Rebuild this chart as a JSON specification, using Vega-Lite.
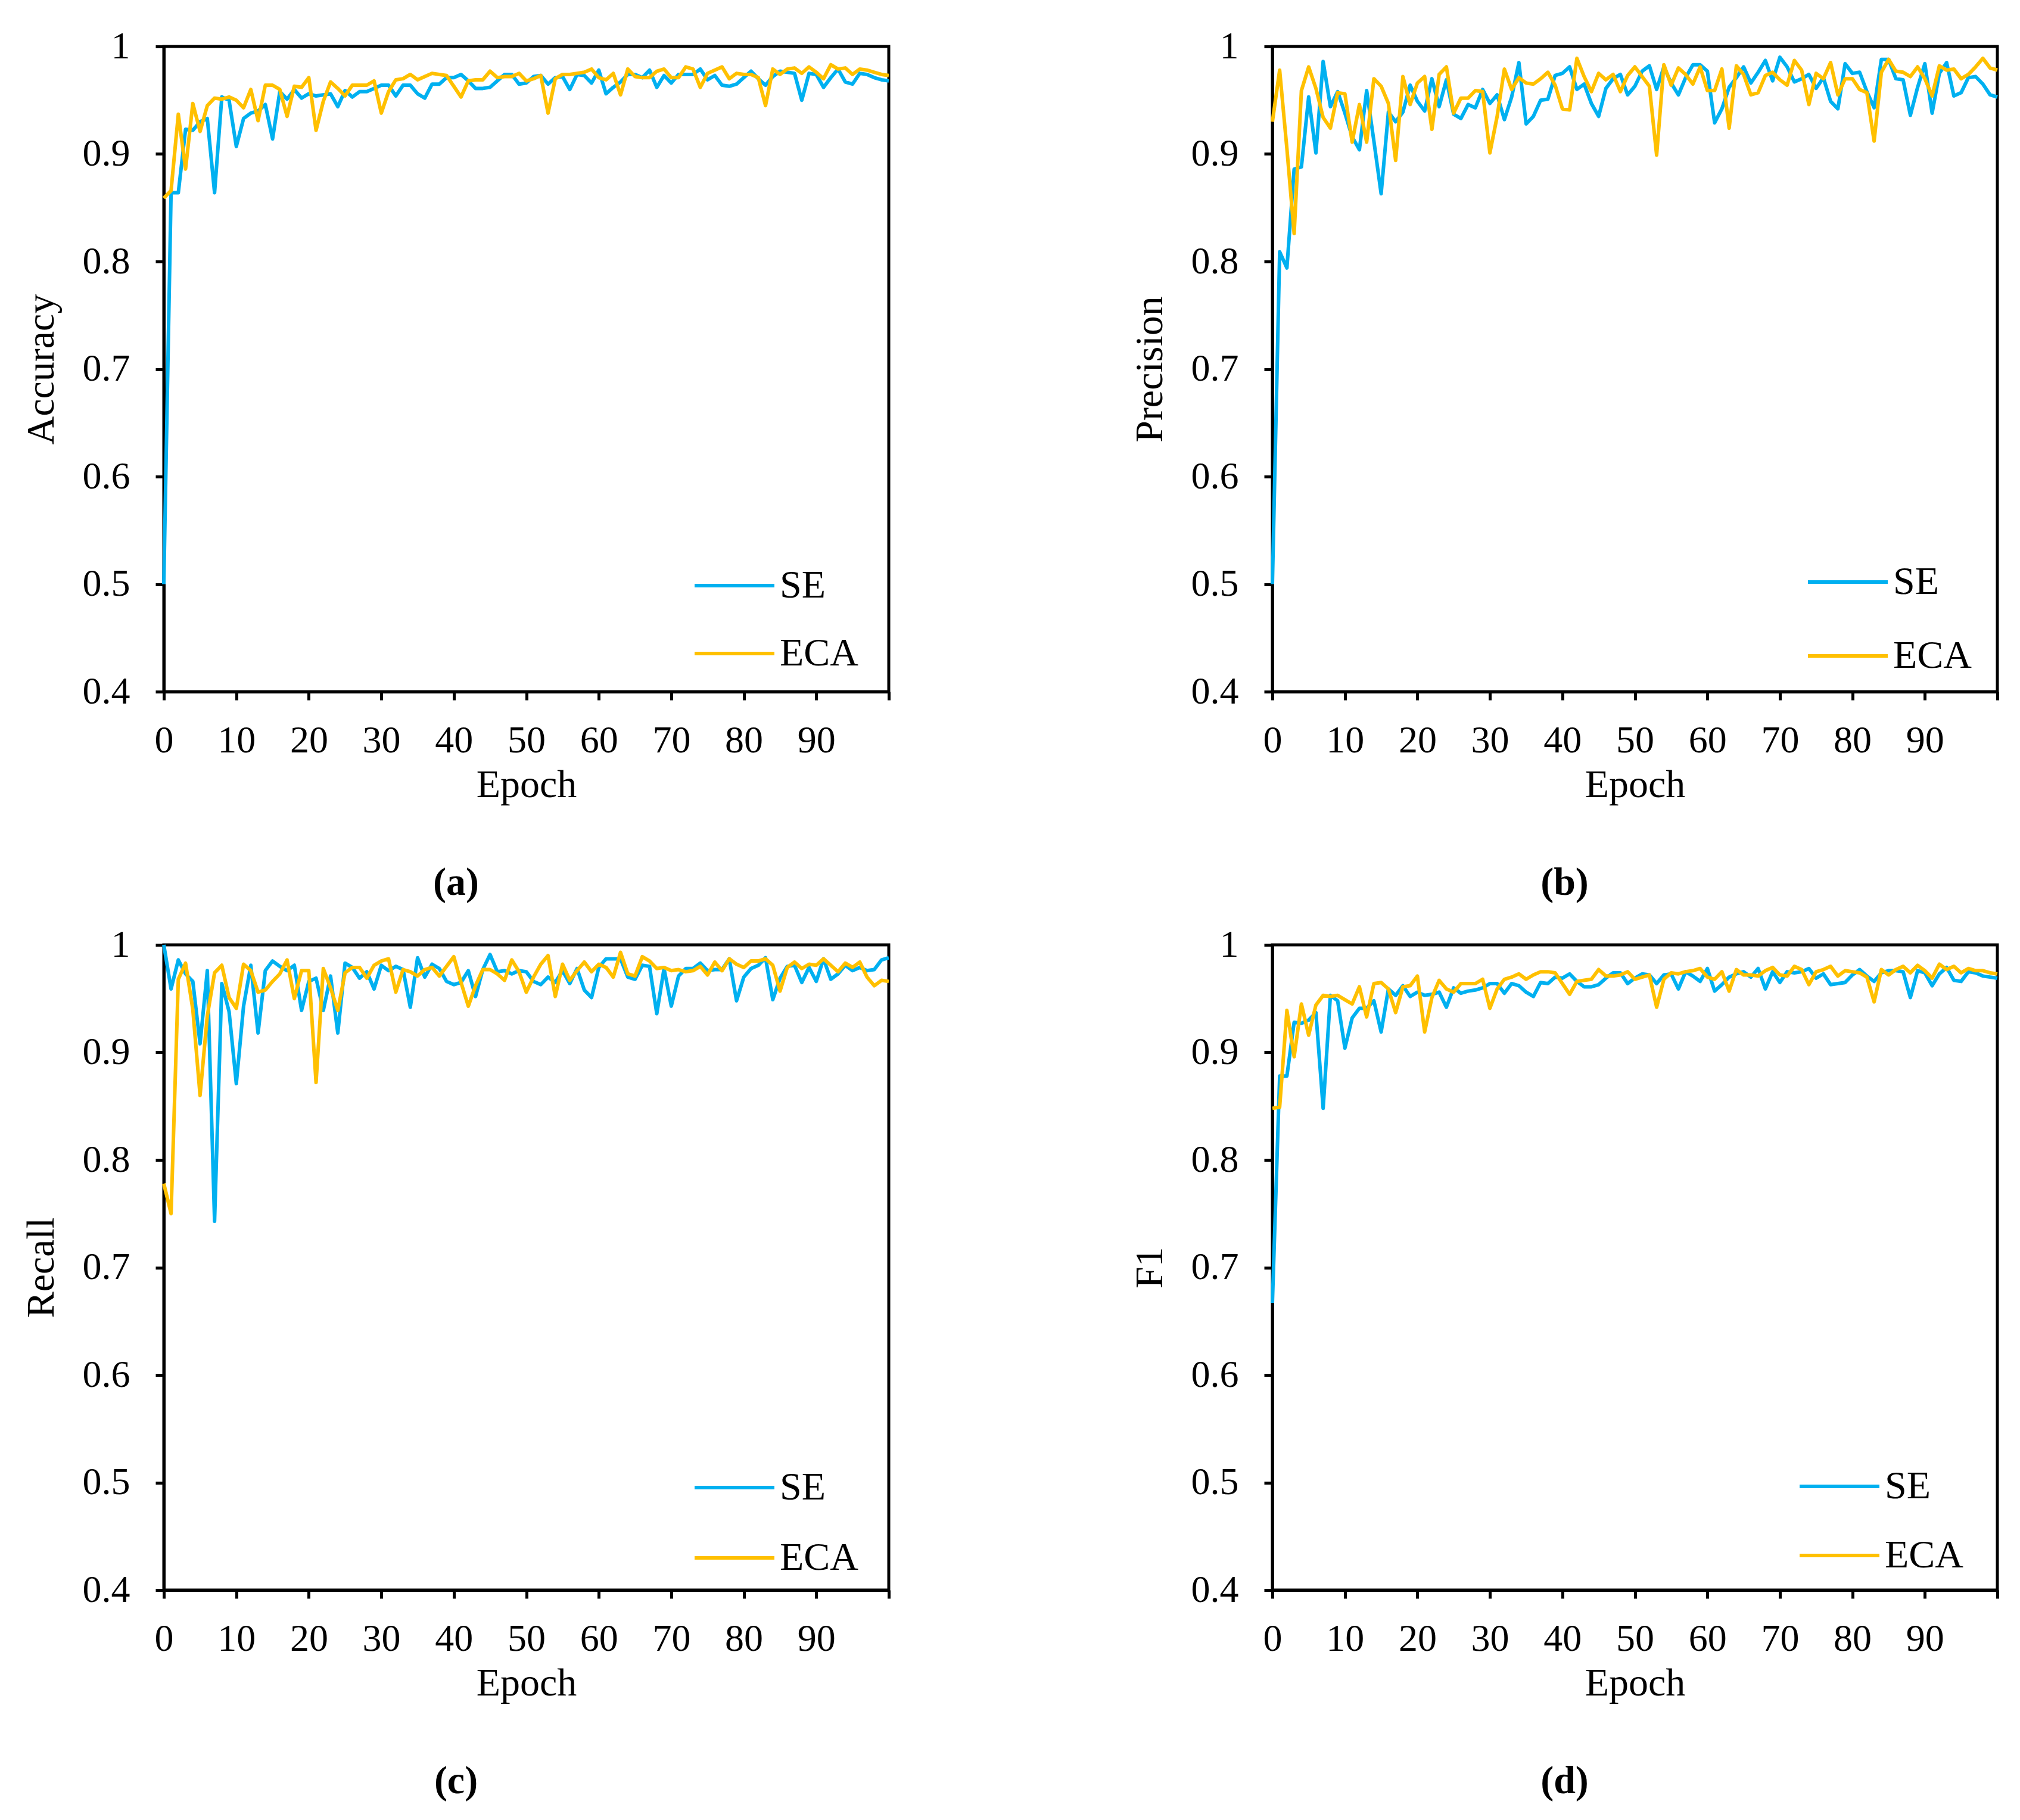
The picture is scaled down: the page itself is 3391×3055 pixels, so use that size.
{
"$schema": "https://vega.github.io/schema/vega-lite/v6.json",
"background": "white",
"padding": {"left": 33, "top": 43, "right": 10, "bottom": 10},
"datasets": {
"accuracy": [
{"epoch":0,"SE":0.500,"ECA":0.859},{"epoch":1,"SE":0.864,"ECA":0.866},{"epoch":2,"SE":0.864,"ECA":0.937},{"epoch":3,"SE":0.923,"ECA":0.886},{"epoch":4,"SE":0.922,"ECA":0.947},{"epoch":5,"SE":0.930,"ECA":0.921},{"epoch":6,"SE":0.933,"ECA":0.945},{"epoch":7,"SE":0.864,"ECA":0.952},{"epoch":8,"SE":0.953,"ECA":0.951},{"epoch":9,"SE":0.950,"ECA":0.953},
{"epoch":10,"SE":0.907,"ECA":0.950},{"epoch":11,"SE":0.933,"ECA":0.943},{"epoch":12,"SE":0.938,"ECA":0.960},{"epoch":13,"SE":0.940,"ECA":0.931},{"epoch":14,"SE":0.946,"ECA":0.964},{"epoch":15,"SE":0.914,"ECA":0.964},{"epoch":16,"SE":0.958,"ECA":0.960},{"epoch":17,"SE":0.951,"ECA":0.935},{"epoch":18,"SE":0.960,"ECA":0.963},{"epoch":19,"SE":0.952,"ECA":0.962},
{"epoch":20,"SE":0.956,"ECA":0.971},{"epoch":21,"SE":0.954,"ECA":0.922},{"epoch":22,"SE":0.955,"ECA":0.949},{"epoch":23,"SE":0.956,"ECA":0.967},{"epoch":24,"SE":0.944,"ECA":0.961},{"epoch":25,"SE":0.959,"ECA":0.954},{"epoch":26,"SE":0.953,"ECA":0.964},{"epoch":27,"SE":0.958,"ECA":0.964},{"epoch":28,"SE":0.958,"ECA":0.964},{"epoch":29,"SE":0.961,"ECA":0.968},
{"epoch":30,"SE":0.964,"ECA":0.938},{"epoch":31,"SE":0.964,"ECA":0.958},{"epoch":32,"SE":0.954,"ECA":0.969},{"epoch":33,"SE":0.964,"ECA":0.970},{"epoch":34,"SE":0.964,"ECA":0.974},{"epoch":35,"SE":0.956,"ECA":0.969},{"epoch":36,"SE":0.952,"ECA":0.972},{"epoch":37,"SE":0.965,"ECA":0.975},{"epoch":38,"SE":0.965,"ECA":0.974},{"epoch":39,"SE":0.971,"ECA":0.973},
{"epoch":40,"SE":0.971,"ECA":0.963},{"epoch":41,"SE":0.974,"ECA":0.953},{"epoch":42,"SE":0.968,"ECA":0.968},{"epoch":43,"SE":0.961,"ECA":0.969},{"epoch":44,"SE":0.961,"ECA":0.969},{"epoch":45,"SE":0.962,"ECA":0.977},{"epoch":46,"SE":0.968,"ECA":0.971},{"epoch":47,"SE":0.974,"ECA":0.972},{"epoch":48,"SE":0.974,"ECA":0.972},{"epoch":49,"SE":0.965,"ECA":0.975},
{"epoch":50,"SE":0.966,"ECA":0.968},{"epoch":51,"SE":0.972,"ECA":0.970},{"epoch":52,"SE":0.973,"ECA":0.973},{"epoch":53,"SE":0.965,"ECA":0.938},{"epoch":54,"SE":0.971,"ECA":0.970},{"epoch":55,"SE":0.972,"ECA":0.974},{"epoch":56,"SE":0.960,"ECA":0.974},{"epoch":57,"SE":0.974,"ECA":0.975},{"epoch":58,"SE":0.973,"ECA":0.976},{"epoch":59,"SE":0.966,"ECA":0.979},
{"epoch":60,"SE":0.978,"ECA":0.971},{"epoch":61,"SE":0.956,"ECA":0.969},{"epoch":62,"SE":0.962,"ECA":0.975},{"epoch":63,"SE":0.967,"ECA":0.955},{"epoch":64,"SE":0.974,"ECA":0.979},{"epoch":65,"SE":0.974,"ECA":0.972},{"epoch":66,"SE":0.971,"ECA":0.971},{"epoch":67,"SE":0.978,"ECA":0.971},{"epoch":68,"SE":0.962,"ECA":0.977},{"epoch":69,"SE":0.973,"ECA":0.979},
{"epoch":70,"SE":0.966,"ECA":0.971},{"epoch":71,"SE":0.974,"ECA":0.971},{"epoch":72,"SE":0.974,"ECA":0.981},{"epoch":73,"SE":0.974,"ECA":0.979},{"epoch":74,"SE":0.979,"ECA":0.962},{"epoch":75,"SE":0.969,"ECA":0.975},{"epoch":76,"SE":0.973,"ECA":0.978},{"epoch":77,"SE":0.964,"ECA":0.981},{"epoch":78,"SE":0.963,"ECA":0.970},{"epoch":79,"SE":0.965,"ECA":0.975},
{"epoch":80,"SE":0.971,"ECA":0.974},{"epoch":81,"SE":0.977,"ECA":0.974},{"epoch":82,"SE":0.970,"ECA":0.971},{"epoch":83,"SE":0.964,"ECA":0.945},{"epoch":84,"SE":0.972,"ECA":0.979},{"epoch":85,"SE":0.977,"ECA":0.974},{"epoch":86,"SE":0.976,"ECA":0.979},{"epoch":87,"SE":0.975,"ECA":0.980},{"epoch":88,"SE":0.950,"ECA":0.975},{"epoch":89,"SE":0.975,"ECA":0.981},
{"epoch":90,"SE":0.974,"ECA":0.976},{"epoch":91,"SE":0.962,"ECA":0.970},{"epoch":92,"SE":0.971,"ECA":0.983},{"epoch":93,"SE":0.979,"ECA":0.979},{"epoch":94,"SE":0.967,"ECA":0.980},{"epoch":95,"SE":0.965,"ECA":0.974},{"epoch":96,"SE":0.975,"ECA":0.979},{"epoch":97,"SE":0.974,"ECA":0.978},{"epoch":98,"SE":0.971,"ECA":0.976},{"epoch":99,"SE":0.969,"ECA":0.974},
{"epoch":100,"SE":0.968,"ECA":0.973}
],
"precision": [
{"epoch":0,"SE":0.500,"ECA":0.930},{"epoch":1,"SE":0.809,"ECA":0.978},{"epoch":2,"SE":0.794,"ECA":0.905},{"epoch":3,"SE":0.886,"ECA":0.826},{"epoch":4,"SE":0.888,"ECA":0.959},{"epoch":5,"SE":0.953,"ECA":0.981},{"epoch":6,"SE":0.901,"ECA":0.961},{"epoch":7,"SE":0.986,"ECA":0.934},{"epoch":8,"SE":0.944,"ECA":0.924},{"epoch":9,"SE":0.958,"ECA":0.957},
{"epoch":10,"SE":0.938,"ECA":0.956},{"epoch":11,"SE":0.916,"ECA":0.911},{"epoch":12,"SE":0.904,"ECA":0.946},{"epoch":13,"SE":0.959,"ECA":0.911},{"epoch":14,"SE":0.912,"ECA":0.970},{"epoch":15,"SE":0.863,"ECA":0.963},{"epoch":16,"SE":0.939,"ECA":0.947},{"epoch":17,"SE":0.930,"ECA":0.894},{"epoch":18,"SE":0.939,"ECA":0.972},{"epoch":19,"SE":0.964,"ECA":0.946},
{"epoch":20,"SE":0.949,"ECA":0.966},{"epoch":21,"SE":0.940,"ECA":0.972},{"epoch":22,"SE":0.970,"ECA":0.923},{"epoch":23,"SE":0.944,"ECA":0.974},{"epoch":24,"SE":0.969,"ECA":0.981},{"epoch":25,"SE":0.937,"ECA":0.938},{"epoch":26,"SE":0.933,"ECA":0.952},{"epoch":27,"SE":0.946,"ECA":0.952},{"epoch":28,"SE":0.943,"ECA":0.959},{"epoch":29,"SE":0.960,"ECA":0.958},
{"epoch":30,"SE":0.947,"ECA":0.901},{"epoch":31,"SE":0.955,"ECA":0.935},{"epoch":32,"SE":0.932,"ECA":0.979},{"epoch":33,"SE":0.953,"ECA":0.960},{"epoch":34,"SE":0.985,"ECA":0.971},{"epoch":35,"SE":0.928,"ECA":0.966},{"epoch":36,"SE":0.935,"ECA":0.965},{"epoch":37,"SE":0.950,"ECA":0.970},{"epoch":38,"SE":0.951,"ECA":0.976},{"epoch":39,"SE":0.973,"ECA":0.964},
{"epoch":40,"SE":0.975,"ECA":0.942},{"epoch":41,"SE":0.981,"ECA":0.941},{"epoch":42,"SE":0.960,"ECA":0.989},{"epoch":43,"SE":0.965,"ECA":0.972},{"epoch":44,"SE":0.947,"ECA":0.958},{"epoch":45,"SE":0.935,"ECA":0.975},{"epoch":46,"SE":0.961,"ECA":0.969},{"epoch":47,"SE":0.970,"ECA":0.974},{"epoch":48,"SE":0.974,"ECA":0.958},{"epoch":49,"SE":0.955,"ECA":0.973},
{"epoch":50,"SE":0.963,"ECA":0.981},{"epoch":51,"SE":0.977,"ECA":0.972},{"epoch":52,"SE":0.982,"ECA":0.963},{"epoch":53,"SE":0.960,"ECA":0.899},{"epoch":54,"SE":0.981,"ECA":0.983},{"epoch":55,"SE":0.966,"ECA":0.964},{"epoch":56,"SE":0.955,"ECA":0.980},{"epoch":57,"SE":0.971,"ECA":0.974},{"epoch":58,"SE":0.983,"ECA":0.965},{"epoch":59,"SE":0.983,"ECA":0.981},
{"epoch":60,"SE":0.977,"ECA":0.959},{"epoch":61,"SE":0.929,"ECA":0.959},{"epoch":62,"SE":0.942,"ECA":0.979},{"epoch":63,"SE":0.962,"ECA":0.924},{"epoch":64,"SE":0.971,"ECA":0.982},{"epoch":65,"SE":0.981,"ECA":0.974},{"epoch":66,"SE":0.966,"ECA":0.955},{"epoch":67,"SE":0.976,"ECA":0.957},{"epoch":68,"SE":0.987,"ECA":0.973},{"epoch":69,"SE":0.968,"ECA":0.976},
{"epoch":70,"SE":0.990,"ECA":0.969},{"epoch":71,"SE":0.981,"ECA":0.964},{"epoch":72,"SE":0.967,"ECA":0.987},{"epoch":73,"SE":0.970,"ECA":0.978},{"epoch":74,"SE":0.974,"ECA":0.946},{"epoch":75,"SE":0.961,"ECA":0.975},{"epoch":76,"SE":0.971,"ECA":0.970},{"epoch":77,"SE":0.949,"ECA":0.985},{"epoch":78,"SE":0.942,"ECA":0.955},{"epoch":79,"SE":0.984,"ECA":0.970},
{"epoch":80,"SE":0.975,"ECA":0.970},{"epoch":81,"SE":0.976,"ECA":0.960},{"epoch":82,"SE":0.958,"ECA":0.957},{"epoch":83,"SE":0.943,"ECA":0.912},{"epoch":84,"SE":0.988,"ECA":0.976},{"epoch":85,"SE":0.988,"ECA":0.988},{"epoch":86,"SE":0.970,"ECA":0.977},{"epoch":87,"SE":0.969,"ECA":0.976},{"epoch":88,"SE":0.936,"ECA":0.972},{"epoch":89,"SE":0.962,"ECA":0.981},
{"epoch":90,"SE":0.984,"ECA":0.970},{"epoch":91,"SE":0.938,"ECA":0.954},{"epoch":92,"SE":0.975,"ECA":0.982},{"epoch":93,"SE":0.985,"ECA":0.978},{"epoch":94,"SE":0.954,"ECA":0.979},{"epoch":95,"SE":0.957,"ECA":0.970},{"epoch":96,"SE":0.971,"ECA":0.974},{"epoch":97,"SE":0.972,"ECA":0.981},{"epoch":98,"SE":0.965,"ECA":0.989},{"epoch":99,"SE":0.955,"ECA":0.980},
{"epoch":100,"SE":0.953,"ECA":0.978}
],
"recall": [
{"epoch":0,"SE":1.000,"ECA":0.778},{"epoch":1,"SE":0.959,"ECA":0.750},{"epoch":2,"SE":0.986,"ECA":0.968},{"epoch":3,"SE":0.973,"ECA":0.983},{"epoch":4,"SE":0.966,"ECA":0.940},{"epoch":5,"SE":0.908,"ECA":0.860},{"epoch":6,"SE":0.976,"ECA":0.934},{"epoch":7,"SE":0.743,"ECA":0.974},{"epoch":8,"SE":0.964,"ECA":0.981},{"epoch":9,"SE":0.938,"ECA":0.951},
{"epoch":10,"SE":0.871,"ECA":0.941},{"epoch":11,"SE":0.943,"ECA":0.982},{"epoch":12,"SE":0.981,"ECA":0.976},{"epoch":13,"SE":0.918,"ECA":0.956},{"epoch":14,"SE":0.976,"ECA":0.958},{"epoch":15,"SE":0.985,"ECA":0.966},{"epoch":16,"SE":0.980,"ECA":0.973},{"epoch":17,"SE":0.976,"ECA":0.986},{"epoch":18,"SE":0.981,"ECA":0.950},{"epoch":19,"SE":0.939,"ECA":0.976},
{"epoch":20,"SE":0.966,"ECA":0.976},{"epoch":21,"SE":0.969,"ECA":0.872},{"epoch":22,"SE":0.939,"ECA":0.978},{"epoch":23,"SE":0.971,"ECA":0.960},{"epoch":24,"SE":0.918,"ECA":0.939},{"epoch":25,"SE":0.983,"ECA":0.974},{"epoch":26,"SE":0.979,"ECA":0.979},{"epoch":27,"SE":0.969,"ECA":0.979},{"epoch":28,"SE":0.975,"ECA":0.969},{"epoch":29,"SE":0.959,"ECA":0.981},
{"epoch":30,"SE":0.981,"ECA":0.985},{"epoch":31,"SE":0.976,"ECA":0.987},{"epoch":32,"SE":0.980,"ECA":0.956},{"epoch":33,"SE":0.977,"ECA":0.977},{"epoch":34,"SE":0.942,"ECA":0.975},{"epoch":35,"SE":0.988,"ECA":0.971},{"epoch":36,"SE":0.970,"ECA":0.977},{"epoch":37,"SE":0.982,"ECA":0.979},{"epoch":38,"SE":0.978,"ECA":0.971},{"epoch":39,"SE":0.966,"ECA":0.980},
{"epoch":40,"SE":0.963,"ECA":0.989},{"epoch":41,"SE":0.965,"ECA":0.965},{"epoch":42,"SE":0.976,"ECA":0.943},{"epoch":43,"SE":0.952,"ECA":0.962},{"epoch":44,"SE":0.977,"ECA":0.977},{"epoch":45,"SE":0.991,"ECA":0.977},{"epoch":46,"SE":0.975,"ECA":0.973},{"epoch":47,"SE":0.976,"ECA":0.967},{"epoch":48,"SE":0.973,"ECA":0.986},{"epoch":49,"SE":0.976,"ECA":0.975},
{"epoch":50,"SE":0.975,"ECA":0.956},{"epoch":51,"SE":0.966,"ECA":0.970},{"epoch":52,"SE":0.963,"ECA":0.982},{"epoch":53,"SE":0.970,"ECA":0.990},{"epoch":54,"SE":0.965,"ECA":0.952},{"epoch":55,"SE":0.976,"ECA":0.982},{"epoch":56,"SE":0.964,"ECA":0.967},{"epoch":57,"SE":0.978,"ECA":0.976},{"epoch":58,"SE":0.958,"ECA":0.984},{"epoch":59,"SE":0.951,"ECA":0.975},
{"epoch":60,"SE":0.979,"ECA":0.982},{"epoch":61,"SE":0.987,"ECA":0.979},{"epoch":62,"SE":0.987,"ECA":0.970},{"epoch":63,"SE":0.987,"ECA":0.993},{"epoch":64,"SE":0.970,"ECA":0.973},{"epoch":65,"SE":0.968,"ECA":0.971},{"epoch":66,"SE":0.981,"ECA":0.989},{"epoch":67,"SE":0.980,"ECA":0.985},{"epoch":68,"SE":0.936,"ECA":0.978},{"epoch":69,"SE":0.978,"ECA":0.979},
{"epoch":70,"SE":0.943,"ECA":0.976},{"epoch":71,"SE":0.971,"ECA":0.977},{"epoch":72,"SE":0.978,"ECA":0.975},{"epoch":73,"SE":0.978,"ECA":0.976},{"epoch":74,"SE":0.983,"ECA":0.980},{"epoch":75,"SE":0.976,"ECA":0.972},{"epoch":76,"SE":0.977,"ECA":0.984},{"epoch":77,"SE":0.977,"ECA":0.976},{"epoch":78,"SE":0.987,"ECA":0.987},{"epoch":79,"SE":0.948,"ECA":0.982},
{"epoch":80,"SE":0.970,"ECA":0.979},{"epoch":81,"SE":0.978,"ECA":0.985},{"epoch":82,"SE":0.981,"ECA":0.985},{"epoch":83,"SE":0.988,"ECA":0.987},{"epoch":84,"SE":0.949,"ECA":0.981},{"epoch":85,"SE":0.969,"ECA":0.957},{"epoch":86,"SE":0.980,"ECA":0.979},{"epoch":87,"SE":0.981,"ECA":0.984},{"epoch":88,"SE":0.965,"ECA":0.978},{"epoch":89,"SE":0.979,"ECA":0.982},
{"epoch":90,"SE":0.966,"ECA":0.981},{"epoch":91,"SE":0.987,"ECA":0.987},{"epoch":92,"SE":0.968,"ECA":0.981},{"epoch":93,"SE":0.973,"ECA":0.975},{"epoch":94,"SE":0.981,"ECA":0.983},{"epoch":95,"SE":0.976,"ECA":0.979},{"epoch":96,"SE":0.979,"ECA":0.984},{"epoch":97,"SE":0.976,"ECA":0.970},{"epoch":98,"SE":0.977,"ECA":0.962},{"epoch":99,"SE":0.986,"ECA":0.967},
{"epoch":100,"SE":0.988,"ECA":0.966}
],
"f1": [
{"epoch":0,"SE":0.667,"ECA":0.848},{"epoch":1,"SE":0.878,"ECA":0.849},{"epoch":2,"SE":0.878,"ECA":0.939},{"epoch":3,"SE":0.928,"ECA":0.896},{"epoch":4,"SE":0.927,"ECA":0.945},{"epoch":5,"SE":0.930,"ECA":0.916},{"epoch":6,"SE":0.937,"ECA":0.944},{"epoch":7,"SE":0.848,"ECA":0.953},{"epoch":8,"SE":0.953,"ECA":0.952},{"epoch":9,"SE":0.948,"ECA":0.953},
{"epoch":10,"SE":0.904,"ECA":0.949},{"epoch":11,"SE":0.932,"ECA":0.945},{"epoch":12,"SE":0.941,"ECA":0.961},{"epoch":13,"SE":0.941,"ECA":0.933},{"epoch":14,"SE":0.948,"ECA":0.964},{"epoch":15,"SE":0.919,"ECA":0.965},{"epoch":16,"SE":0.959,"ECA":0.959},{"epoch":17,"SE":0.953,"ECA":0.937},{"epoch":18,"SE":0.962,"ECA":0.961},{"epoch":19,"SE":0.952,"ECA":0.962},
{"epoch":20,"SE":0.956,"ECA":0.971},{"epoch":21,"SE":0.953,"ECA":0.919},{"epoch":22,"SE":0.954,"ECA":0.951},{"epoch":23,"SE":0.956,"ECA":0.967},{"epoch":24,"SE":0.942,"ECA":0.959},{"epoch":25,"SE":0.960,"ECA":0.956},{"epoch":26,"SE":0.955,"ECA":0.964},{"epoch":27,"SE":0.957,"ECA":0.964},{"epoch":28,"SE":0.958,"ECA":0.964},{"epoch":29,"SE":0.960,"ECA":0.968},
{"epoch":30,"SE":0.964,"ECA":0.941},{"epoch":31,"SE":0.964,"ECA":0.959},{"epoch":32,"SE":0.955,"ECA":0.968},{"epoch":33,"SE":0.964,"ECA":0.970},{"epoch":34,"SE":0.962,"ECA":0.973},{"epoch":35,"SE":0.956,"ECA":0.968},{"epoch":36,"SE":0.952,"ECA":0.972},{"epoch":37,"SE":0.965,"ECA":0.975},{"epoch":38,"SE":0.964,"ECA":0.975},{"epoch":39,"SE":0.970,"ECA":0.974},
{"epoch":40,"SE":0.969,"ECA":0.964},{"epoch":41,"SE":0.973,"ECA":0.954},{"epoch":42,"SE":0.966,"ECA":0.966},{"epoch":43,"SE":0.961,"ECA":0.967},{"epoch":44,"SE":0.961,"ECA":0.968},{"epoch":45,"SE":0.963,"ECA":0.977},{"epoch":46,"SE":0.969,"ECA":0.971},{"epoch":47,"SE":0.974,"ECA":0.971},{"epoch":48,"SE":0.974,"ECA":0.972},{"epoch":49,"SE":0.964,"ECA":0.975},
{"epoch":50,"SE":0.969,"ECA":0.968},{"epoch":51,"SE":0.973,"ECA":0.970},{"epoch":52,"SE":0.972,"ECA":0.972},{"epoch":53,"SE":0.964,"ECA":0.942},{"epoch":54,"SE":0.972,"ECA":0.968},{"epoch":55,"SE":0.973,"ECA":0.974},{"epoch":56,"SE":0.959,"ECA":0.973},{"epoch":57,"SE":0.975,"ECA":0.975},{"epoch":58,"SE":0.971,"ECA":0.976},{"epoch":59,"SE":0.966,"ECA":0.978},
{"epoch":60,"SE":0.978,"ECA":0.970},{"epoch":61,"SE":0.957,"ECA":0.968},{"epoch":62,"SE":0.963,"ECA":0.975},{"epoch":63,"SE":0.970,"ECA":0.957},{"epoch":64,"SE":0.973,"ECA":0.977},{"epoch":65,"SE":0.975,"ECA":0.972},{"epoch":66,"SE":0.970,"ECA":0.972},{"epoch":67,"SE":0.978,"ECA":0.971},{"epoch":68,"SE":0.959,"ECA":0.976},{"epoch":69,"SE":0.975,"ECA":0.979},
{"epoch":70,"SE":0.965,"ECA":0.972},{"epoch":71,"SE":0.975,"ECA":0.971},{"epoch":72,"SE":0.974,"ECA":0.980},{"epoch":73,"SE":0.975,"ECA":0.977},{"epoch":74,"SE":0.978,"ECA":0.963},{"epoch":75,"SE":0.969,"ECA":0.975},{"epoch":76,"SE":0.973,"ECA":0.977},{"epoch":77,"SE":0.963,"ECA":0.980},{"epoch":78,"SE":0.964,"ECA":0.971},{"epoch":79,"SE":0.965,"ECA":0.976},
{"epoch":80,"SE":0.972,"ECA":0.975},{"epoch":81,"SE":0.977,"ECA":0.974},{"epoch":82,"SE":0.971,"ECA":0.970},{"epoch":83,"SE":0.966,"ECA":0.947},{"epoch":84,"SE":0.974,"ECA":0.977},{"epoch":85,"SE":0.976,"ECA":0.972},{"epoch":86,"SE":0.976,"ECA":0.977},{"epoch":87,"SE":0.975,"ECA":0.980},{"epoch":88,"SE":0.951,"ECA":0.974},{"epoch":89,"SE":0.976,"ECA":0.981},
{"epoch":90,"SE":0.974,"ECA":0.976},{"epoch":91,"SE":0.962,"ECA":0.969},{"epoch":92,"SE":0.973,"ECA":0.982},{"epoch":93,"SE":0.979,"ECA":0.977},{"epoch":94,"SE":0.967,"ECA":0.980},{"epoch":95,"SE":0.966,"ECA":0.974},{"epoch":96,"SE":0.975,"ECA":0.978},{"epoch":97,"SE":0.974,"ECA":0.976},{"epoch":98,"SE":0.971,"ECA":0.976},{"epoch":99,"SE":0.970,"ECA":0.974},
{"epoch":100,"SE":0.969,"ECA":0.973}
]
},
"columns": 2,
"spacing": {"row": 425, "column": 644},
"bounds": "flush",
"resolve": {"scale": {"color": "independent"}, "legend": {"color": "independent"}},
"concat": [
{
"data": {"name": "accuracy"},
"transform": [{"fold": ["SE", "ECA"], "as": ["model", "value"]}],
"width": 1217, "height": 1083,
"title": {"text": "(a)"},
"mark": {"type": "line", "strokeWidth": 6, "strokeJoin": "round"},
"encoding": {
"x": {"field": "epoch", "type": "quantitative", "scale": {"domain": [0, 100], "nice": false, "zero": false}, "axis": {"title": "Epoch", "values": [0,10,20,30,40,50,60,70,80,90,100], "labelExpr": "datum.value >= 100 ? '' : datum.label"}},
"y": {"field": "value", "type": "quantitative", "scale": {"domain": [0.4, 1], "nice": false, "zero": false}, "axis": {"title": "Accuracy", "values": [0.4,0.5,0.6,0.7,0.8,0.9,1], "format": ".1~f"}},
"color": {"field": "model", "type": "nominal", "sort": ["SE", "ECA"], "scale": {"domain": ["SE", "ECA"], "range": ["#00B0F0", "#FFC000"]}, "legend": {"title": null, "orient": "none", "legendX": 888, "legendY": 835, "rowPadding": 11}}
}
},
{
"data": {"name": "precision"},
"transform": [{"fold": ["SE", "ECA"], "as": ["model", "value"]}],
"width": 1217, "height": 1083,
"title": {"text": "(b)"},
"mark": {"type": "line", "strokeWidth": 6, "strokeJoin": "round"},
"encoding": {
"x": {"field": "epoch", "type": "quantitative", "scale": {"domain": [0, 100], "nice": false, "zero": false}, "axis": {"title": "Epoch", "values": [0,10,20,30,40,50,60,70,80,90,100], "labelExpr": "datum.value >= 100 ? '' : datum.label"}},
"y": {"field": "value", "type": "quantitative", "scale": {"domain": [0.4, 1], "nice": false, "zero": false}, "axis": {"title": "Precision", "values": [0.4,0.5,0.6,0.7,0.8,0.9,1], "format": ".1~f"}},
"color": {"field": "model", "type": "nominal", "sort": ["SE", "ECA"], "scale": {"domain": ["SE", "ECA"], "range": ["#00B0F0", "#FFC000"]}, "legend": {"title": null, "orient": "none", "legendX": 896, "legendY": 829, "rowPadding": 21}}
}
},
{
"data": {"name": "recall"},
"transform": [{"fold": ["SE", "ECA"], "as": ["model", "value"]}],
"width": 1217, "height": 1083,
"title": {"text": "(c)"},
"mark": {"type": "line", "strokeWidth": 6, "strokeJoin": "round"},
"encoding": {
"x": {"field": "epoch", "type": "quantitative", "scale": {"domain": [0, 100], "nice": false, "zero": false}, "axis": {"title": "Epoch", "values": [0,10,20,30,40,50,60,70,80,90,100], "labelExpr": "datum.value >= 100 ? '' : datum.label"}},
"y": {"field": "value", "type": "quantitative", "scale": {"domain": [0.4, 1], "nice": false, "zero": false}, "axis": {"title": "Recall", "values": [0.4,0.5,0.6,0.7,0.8,0.9,1], "format": ".1~f"}},
"color": {"field": "model", "type": "nominal", "sort": ["SE", "ECA"], "scale": {"domain": ["SE", "ECA"], "range": ["#00B0F0", "#FFC000"]}, "legend": {"title": null, "orient": "none", "legendX": 888, "legendY": 841, "rowPadding": 15}}
}
},
{
"data": {"name": "f1"},
"transform": [{"fold": ["SE", "ECA"], "as": ["model", "value"]}],
"width": 1217, "height": 1083,
"title": {"text": "(d)"},
"mark": {"type": "line", "strokeWidth": 6, "strokeJoin": "round"},
"encoding": {
"x": {"field": "epoch", "type": "quantitative", "scale": {"domain": [0, 100], "nice": false, "zero": false}, "axis": {"title": "Epoch", "values": [0,10,20,30,40,50,60,70,80,90,100], "labelExpr": "datum.value >= 100 ? '' : datum.label"}},
"y": {"field": "value", "type": "quantitative", "scale": {"domain": [0.4, 1], "nice": false, "zero": false}, "axis": {"title": "F1", "values": [0.4,0.5,0.6,0.7,0.8,0.9,1], "format": ".1~f"}},
"color": {"field": "model", "type": "nominal", "sort": ["SE", "ECA"], "scale": {"domain": ["SE", "ECA"], "range": ["#00B0F0", "#FFC000"]}, "legend": {"title": null, "orient": "none", "legendX": 882, "legendY": 839, "rowPadding": 13}}
}
}
],
"config": {
"font": "Liberation Serif",
"view": {"stroke": "black", "strokeWidth": 5},
"axis": {"grid": false, "domainColor": "black", "domainWidth": 5, "tickColor": "black", "tickWidth": 5, "tickSize": 14, "labelFont": "Liberation Serif", "labelFontSize": 64, "labelColor": "black", "labelFlush": false, "labelOverlap": false, "titleFont": "Liberation Serif", "titleFontSize": 66, "titleFontWeight": "normal", "titleColor": "black"},
"axisX": {"labelPadding": 36, "titlePadding": 10},
"axisY": {"labelPadding": 43, "titlePadding": 35, "minExtent": 137, "maxExtent": 137},
"legend": {"labelFont": "Liberation Serif", "labelFontSize": 66, "labelColor": "black", "symbolType": "stroke", "symbolStrokeWidth": 6, "symbolSize": 17956, "labelOffset": 6, "padding": 0},
"title": {"orient": "bottom", "anchor": "middle", "frame": "bounds", "offset": 100, "font": "Liberation Serif", "fontSize": 66, "fontWeight": "bold", "color": "black"}
}
}
